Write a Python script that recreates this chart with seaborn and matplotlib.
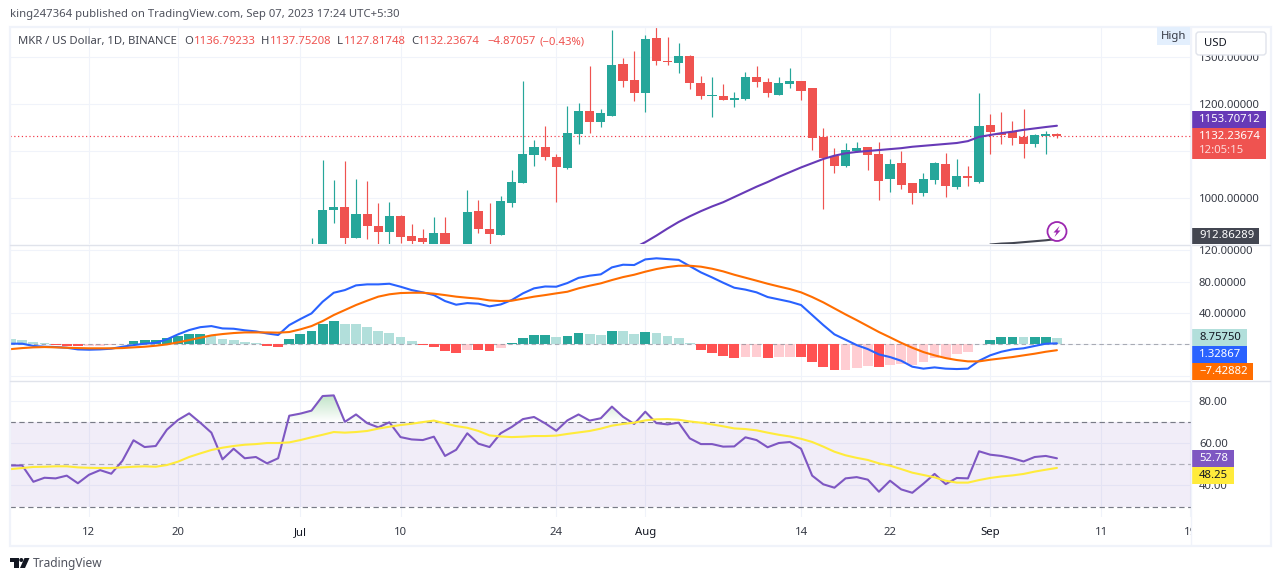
import numpy as np
import pandas as pd
import matplotlib
matplotlib.use("Agg")
import matplotlib.pyplot as plt
import seaborn as sns
from matplotlib.patches import Rectangle, FancyBboxPatch, Circle, Polygon
from matplotlib.path import Path
from matplotlib.transforms import Bbox
from matplotlib.colors import LinearSegmentedColormap

# day index: 0 = 12 Jun 2023
tick_days = [0, 8, 19, 28, 42, 50, 64, 72, 81, 91, 99]
tick_labels = ["12", "20", "Jul", "10", "24", "Aug", "14", "22", "Sep", "11", "19"]
month_labels = ["Jul", "Aug", "Sep"]

candle_days = list(range(20, 88))
opens = [880, 890, 974, 981, 915, 966, 940, 928, 962, 919, 915, 900, 925, 890, 885, 972, 934, 921, 989, 1032,
         1091, 1109, 1087, 1064, 1136, 1185, 1162, 1174, 1285, 1251, 1223, 1340, 1292, 1287, 1302, 1245, 1217, 1217,
         1209, 1211, 1257, 1247, 1219, 1243, 1249, 1234, 1130, 1089, 1068, 1100, 1109, 1094, 1040, 1074, 1032, 1011,
         1038, 1072, 1023, 1047, 1034, 1155, 1138, 1140, 1130, 1115, 1132, 1136.79]
highs = [915, 1081, 1038, 1079, 1040, 1036, 989, 991, 964, 945, 934, 960, 960, 895, 1017, 996, 989, 1004, 1060, 1249,
         1123, 1153, 1094, 1196, 1202, 1281, 1189, 1358, 1298, 1313, 1347, 1364, 1343, 1330, 1304, 1260, 1257, 1243,
         1226, 1268, 1281, 1255, 1257, 1277, 1249, 1234, 1149, 1106, 1117, 1119, 1109, 1119, 1083, 1100, 1032, 1053,
         1077, 1096, 1083, 1068, 1223, 1179, 1183, 1164, 1189, 1136, 1143, 1137.75]
lows = [870, 870, 947, 898, 915, 913, 902, 902, 904, 902, 895, 895, 890, 870, 870, 925, 900, 921, 981, 1032,
        1068, 1081, 991, 1062, 1115, 1138, 1151, 1174, 1236, 1206, 1183, 1283, 1283, 1266, 1232, 1211, 1172, 1209,
        1194, 1209, 1236, 1215, 1219, 1234, 1209, 1102, 977, 1053, 1066, 1098, 1060, 996, 1013, 1019, 987, 1004,
        1030, 1002, 1019, 1026, 1032, 1094, 1115, 1113, 1085, 1109, 1094, 1127.82]
closes = [900, 974, 981, 915, 966, 940, 928, 962, 917, 908, 906, 925, 895, 880, 970, 934, 923, 994, 1034, 1094,
          1109, 1087, 1066, 1138, 1185, 1162, 1181, 1283, 1249, 1223, 1338, 1292, 1289, 1302, 1245, 1217, 1219, 1209,
          1213, 1257, 1247, 1223, 1245, 1249, 1228, 1128, 1085, 1068, 1102, 1106, 1091, 1036, 1072, 1028, 1011, 1040,
          1074, 1026, 1047, 1043, 1153, 1140, 1134, 1128, 1115, 1134, 1136, 1132.24]

ma_days = list(range(49, 88))
ma_values = [894, 906, 920, 935, 949, 961, 972, 982, 991, 1002, 1013, 1024, 1034, 1045, 1055, 1065, 1074, 1083, 1090,
             1095, 1098, 1100, 1102, 1104, 1106, 1109, 1111, 1113, 1115, 1117, 1121, 1130, 1134, 1138, 1141, 1145,
             1148, 1151, 1153.71]
base_days = [81, 82, 83, 84, 85, 86, 87]
base_values = [901, 903, 904, 906, 908, 910, 912.86]
last_price = 1132.24

ind_days = list(range(-7, 88))
hist_values = [6.8, 5.5, 3, 1.7, -1.3, -2, -2, -2, -2, -1, 0.5, 4.2, 5.5, 5.5, 8, 10.6, 13.2, 13.2, 10.6, 6.8,
               5.5, 3, 1.7, -2, -3.4, 6.8, 13.2, 17, 26, 29.8, 26, 26, 22, 17, 14.5, 9.4, 4.3, -0.8, -3.4, -8.5,
               -11, -7.2, -7.2, -8.5, -4.7, 1.7, 8, 12, 12, 9.4, 10.6, 14.5, 13.2, 12, 17, 17, 13.2, 15.8, 14.5,
               10.6, 8, 1.7, -7.2, -11, -15, -17.5, -16.2, -16.2, -17.5, -16.2, -16.2, -16.2, -22.6, -29, -32.8,
               -32.8, -30.2, -27.7, -29, -26.4, -25, -26.4, -22.6, -17.5, -17.5, -12.4, -9.8, 0.4, 5.5, 9.4, 9.4,
               9.4, 9.4, 9.4, 8.76]
hist_kinds = ["l", "l", "l", "l", "r", "r", "r", "p", "p", "p", "g", "g", "g", "g", "g", "g", "g", "g", "l", "l",
              "l", "l", "l", "r", "r", "g", "g", "g", "g", "g", "l", "l", "l", "l", "l", "l", "l", "r", "r", "r",
              "r", "p", "r", "r", "p", "g", "g", "g", "g", "l", "g", "g", "l", "l", "g", "l", "l", "g", "l",
              "l", "l", "l", "r", "r", "r", "r", "p", "p", "r", "p", "p", "r", "r", "r", "r",
              "p", "p", "p", "r", "p", "p", "p", "p", "p", "p", "p", "p", "g", "g", "g", "g",
              "l", "g", "g", "l"]
macd_values = [0.9, 0.9, -2, -3, -3.4, -4.3, -6.4, -6.8, -6.4, -5.5, -3, -0.9, 0.9, 2, 6.4, 12.8, 18.3, 22, 23.4, 20.4,
               20, 18, 16.6, 14, 12, 24.7, 32.4, 39.6, 54.5, 66, 69.4, 75.4, 76.7, 76.7, 77.5, 73.7, 69.4, 66.5, 63,
               55.4, 50.7, 52.8, 52, 48.6, 51, 56.7, 65.2, 71.6, 74, 73.7, 78.4, 85, 87.8, 89.5, 98.4, 101.8, 101.4,
               108.6, 110, 109, 108, 100, 92, 85.6, 78.8, 72.4, 70, 66.5, 60.5, 57.5, 54.5, 50.3, 37.5, 24.7, 12.8,
               6, -0.9, -6, -12.8, -16.2, -20.9, -28.5, -31, -29.4, -31, -31.5, -31, -20.9, -14, -9.4, -6.4, -5, -2,
               0.9, 1.33]
signal_values = [-6, -4.7, -3.8, -3.4, -3.8, -4.3, -4.7, -5, -5, -5, -4.7, -3.8, -3, -1.7, 0, 2.6, 5.5, 8.5, 11.5, 13.2,
                 14.5, 15.3, 15.3, 15.3, 15, 15.8, 19.2, 23.4, 29.8, 37.5, 43.9, 50.3, 55.8, 61, 64, 65.6, 66, 66,
                 64.8, 63, 61, 59.6, 58.4, 56.2, 55.4, 55.8, 58.4, 61, 63, 65.2, 67.3, 71.6, 75, 78, 82.2, 86, 89,
                 92.9, 96.3, 98.8, 100.5, 100.5, 99.3, 96.7, 93.3, 89, 85.2, 81.4, 77.5, 74, 70.7, 66.5, 60.5, 53.7,
                 46, 38.3, 31, 23.4, 15.8, 9, 2, -4.3, -9.8, -14, -17.5, -20, -21.7, -21.7, -19.6, -17.9, -16.2,
                 -14, -11.9, -9.4, -7.43]
rsi_values = [49.4, 49.4, 41.7, 43.6, 43.3, 44.6, 41, 45, 47.2, 45.5, 51.6, 61.3, 58.1, 58.6, 66.3, 70.9, 74, 69.6, 64.9,
              52.3, 57.3, 52.8, 53.4, 50.4, 52.8, 72.9, 73.9, 75.3, 82.2, 82.5, 70, 73.5, 69.4, 67.4, 69.8, 62.8,
              61.7, 61.4, 63, 53.9, 56.8, 64.6, 59.7, 58.1, 64.6, 67.6, 71.3, 72.3, 69.3, 65.8, 70.7, 73.5, 70.6,
              71.7, 77.2, 72.4, 69, 74.8, 69.4, 68.8, 69.6, 62.2, 59.5, 59.5, 58.3, 58.4, 62.7, 61.4, 58, 60, 60.5,
              57.3, 44.6, 40.5, 38.9, 43.3, 43.9, 42.7, 37, 42.2, 38.1, 36.5, 40.8, 45.4, 40.6, 43.5, 43.3, 56.1,
              54.5, 53.9, 52.8, 51.3, 53.4, 53.9, 52.78]
rsi_ma_values = [47.7, 48.2, 48.7, 48.8, 49, 49, 48.5, 48.3, 48.2, 48.2, 48.5, 48.8, 49, 48.8, 49.6, 51.2, 53.4, 55.1,
                 56.7, 57.8, 58.6, 59.2, 59.5, 60, 60, 60.3, 61.4, 62.7, 63.9, 65.2, 64.9, 65.2, 65.7, 66.8, 67.7,
                 68.5, 69.1, 69.9, 70.6, 69.3, 68, 67.2, 65.7, 63.6, 63.1, 62.8, 63, 63.3, 63.3, 63.5, 64.3, 65, 65.7,
                 66.8, 68.2, 69, 69.6, 70.7, 71.2, 71.3, 71, 70.2, 69.6, 68.8, 67.9, 66.9, 66.6, 66, 64.9, 63.9, 63.1,
                 62, 60.5, 58.3, 55.9, 54.2, 53, 52, 50.4, 49.3, 47.7, 46, 44.9, 43.8, 42.2, 41.3, 41.3, 42.5, 43.5,
                 44.2, 44.7, 45.4, 46.5, 47.4, 48.25]

GREEN, RED = "#26A69A", "#EF5350"
HIST = {"g": "#26A69A", "l": "#B2DFDB", "r": "#FF5252", "p": "#FFCDD2"}
GRID, SEP, FRAME = "#F0F3FA", "#E0E3EB", "#F0F3FA"
TXT = "#363A45"
FONT = "Noto Sans"
W, H = 1281, 581

sns.set_theme(style="white")
plt.rcParams["font.family"] = [FONT, "DejaVu Sans"]
plt.rcParams["font.size"] = 8

fig = plt.figure(figsize=(W / 100, H / 100), dpi=100, facecolor="white")


def pane(top, bottom):
    return fig.add_axes([10 / W, 1 - bottom / H, 1181 / W, (bottom - top) / H])


ax_p = pane(27, 244)
ax_m = pane(245, 380)
ax_r = pane(381, 517)

for ax, yt, yl in [
    (ax_p, [1000, 1100, 1200, 1300], ["1000.00000", "", "1200.00000", "1300.00000"]),
    (ax_m, [-40, 0, 40, 80, 120], ["", "", "40.00000", "80.00000", "120.00000"]),
    (ax_r, [40, 60, 80], ["40.00", "60.00", "80.00"]),
]:
    ax.set_facecolor("white")
    ax.set_axisbelow(True)
    ax.grid(True, color=GRID, linewidth=0.8)
    ax.yaxis.tick_right()
    ax.set_yticks(yt)
    ax.set_yticklabels(yl, color=TXT, fontsize=8.15)
    ax.set_xticks(tick_days)
    ax.tick_params(axis="both", length=0, pad=5.7)
    for s in ax.spines.values():
        s.set_visible(False)

# ---- price pane
cols = [GREEN if c >= o else RED for o, c in zip(opens, closes)]
ax_p.vlines(candle_days, lows, highs, colors=cols, linewidth=0.85, zorder=2)
ax_p.bar(candle_days, np.abs(np.array(closes) - np.array(opens)),
         bottom=np.minimum(opens, closes), width=0.82, color=cols, zorder=3, linewidth=0)
ax_p.axhline(last_price, color="#F23645", linestyle=(0, (1, 2.2)), linewidth=0.85, zorder=2)
sns.lineplot(x=ma_days, y=ma_values, ax=ax_p, color="#673AB7", linewidth=1.5, errorbar=None, zorder=4)
sns.lineplot(x=base_days, y=base_values, ax=ax_p, color="#434651", linewidth=1.5, errorbar=None, zorder=4)
ax_p.set_xticklabels([])

# ---- MACD pane
df_h = pd.DataFrame({"day": ind_days, "v": hist_values, "k": hist_kinds})
order = ["l", "p", "g", "r"]
sns.barplot(data=df_h, x="day", y="v", hue="k", hue_order=order, palette=HIST, dodge=False,
            native_scale=True, width=0.88, saturation=1, legend=False, ax=ax_m, linewidth=0)
for cont, k in zip(ax_m.containers, order):
    for b in cont:
        b.set_zorder(1 if k in "lp" else 3)
ax_m.axhline(0, color="#787B86", alpha=0.6, linewidth=0.8, linestyle=(0, (4, 3)), zorder=2)
sns.lineplot(x=ind_days, y=macd_values, ax=ax_m, color="#2962FF", linewidth=1.5, errorbar=None, zorder=5)
sns.lineplot(x=ind_days, y=signal_values, ax=ax_m, color="#FF6D00", linewidth=1.5, errorbar=None, zorder=6)
ax_m.set_xticks(tick_days)
ax_m.set_xticklabels([])
ax_m.set_xlabel("")
ax_m.set_ylabel("")

# ---- RSI pane
ax_r.axhspan(30, 70, color="#7E57C2", alpha=0.1, linewidth=0, zorder=1)
for lvl, a in [(70, 1), (50, 0.55), (30, 1)]:
    ax_r.axhline(lvl, color="#787B86", alpha=a, linewidth=0.85, linestyle=(0, (4.5, 3)), zorder=2)
poly = ax_r.fill_between(ind_days, 70, rsi_values, where=np.array(rsi_values) > 70, interpolate=True,
                         color="none", linewidth=0)
cmap = LinearSegmentedColormap.from_list("ob", ["#FFFFFF", "#BFE3C6"])
im = ax_r.imshow(np.linspace(1, 0, 64).reshape(-1, 1), cmap=cmap, aspect="auto",
                 extent=(-7.1, 99.05, 70, 83), zorder=2, origin="upper")
im.set_clip_path(Path.make_compound_path(*poly.get_paths()), transform=ax_r.transData)
sns.lineplot(x=ind_days, y=rsi_values, ax=ax_r, color="#7E57C2", linewidth=1.5, errorbar=None, zorder=5)
sns.lineplot(x=ind_days, y=rsi_ma_values, ax=ax_r, color="#FFEB3B", linewidth=1.5, errorbar=None, zorder=6)
ax_r.set_xticks(tick_days)
ax_r.set_xticklabels(tick_labels, fontsize=8.15)
ax_r.tick_params(axis="x", pad=7.5, labelbottom=True)
for lab in ax_r.get_xticklabels():
    lab.set_color("#131722" if lab.get_text() in month_labels else TXT)
    lab.set_clip_on(True)
    lab.set_clip_box(Bbox([[0, 0], [1191, H]]))

for ax, ylim in [(ax_p, (902.1, 1363.8)), (ax_m, (-45.5, 127)), (ax_r, (25.06, 89.3))]:
    ax.set_xlim(-7.1, 99.05)
    ax.set_ylim(*ylim)

# ---- page furniture, in pixel coordinates
ov = fig.add_axes([0, 0, 1, 1], zorder=20)
ov.set_xlim(0, W)
ov.set_ylim(H, 0)
ov.axis("off")
ov.patch.set_alpha(0)


def rect(x0, y0, x1, y1, fc, **kw):
    ov.add_patch(Rectangle((x0, y0), x1 - x0, y1 - y0, facecolor=fc, edgecolor="none", **kw))


def txt(x, y, s, color=TXT, size=8.15, ha="left", **kw):
    ov.text(x, y, s, color=color, fontsize=size, ha=ha, va="center", **kw)


# frame and separators
ov.add_patch(Rectangle((9.5, 26.5), 1261, 519, fill=False, edgecolor=FRAME, linewidth=1.6))
ov.plot([10, 1270], [244.5, 244.5], color=SEP, lw=1)
ov.plot([10, 1270], [380.5, 380.5], color=SEP, lw=1)
ov.plot([1191, 1191], [27, 545], color=GRID, lw=1)

# header
txt(10, 15, "king247364 published on TradingView.com, Sep 07, 2023 17:24 UTC+5:30", color="#50535E", size=8.15)
txt(18, 41.5, "MKR / US Dollar, 1D, BINANCE", color="#434651", size=8.1)
for x, s, c in [(184, "O", "#434651"), (193.5, "1136.79233", RED), (261, "H", "#434651"), (270, "1137.75208", RED),
                (337, "L", "#434651"), (344, "1127.81748", RED), (411, "C", "#434651"), (418, "1132.23674", RED),
                (487, "\u22124.87057", RED), (540, "(\u22120.43%)", RED)]:
    txt(x, 41.5, s, color=c, size=8.15)

# High tag and currency button
rect(1157, 27, 1190, 45, "#E3EFFD")
txt(1173.5, 36, "High", color=TXT, ha="center")
ov.add_patch(FancyBboxPatch((1196, 32), 70, 23, boxstyle="round,pad=0,rounding_size=3",
                            facecolor="white", edgecolor=SEP, linewidth=1))
txt(1204, 43.5, "USD", color="#131722")

# last-value tags
tags = [
    (1191, 1266, 111, 128, "#673AB7", "1153.70712", "white"),
    (1191, 1259, 228, 244, "#434651", "912.86289", "white"),
    (1191, 1247, 329, 346, "#B2DFDB", "8.75750", "#131722"),
    (1191, 1247, 346, 363, "#2962FF", "1.32867", "white"),
    (1191, 1253, 363, 380, "#FF6D00", "\u22127.42882", "white"),
    (1191, 1234, 450, 467, "#7E57C2", "52.78", "white"),
    (1191, 1234, 467, 484, "#FFEB3B", "48.25", "#131722"),
]
rect(1191, 128, 1266, 159, "#EF5350")
txt(1199, 136.5, "1132.23674", color="white", fontweight="medium")
txt(1199, 150.5, "12:05:15", color="#FDD9D8")
for x0, x1, y0, y1, fc, s, tc in tags:
    rect(x0, y0, x1, y1, fc)
    txt(1199, (y0 + y1) / 2, s, color=tc)

# bolt marker
ov.add_patch(Circle((1057, 231.5), 9.5, facecolor="white", edgecolor="#9C27B0", linewidth=1.3))
ov.add_patch(Polygon([(1059.5, 226), (1053.5, 232.5), (1056.5, 232.5), (1054.5, 237),
                      (1060.5, 230.5), (1057.5, 230.5)], closed=True, facecolor="#9C27B0", edgecolor="none"))

# footer logo
ov.add_patch(Polygon([(10, 558), (18.5, 558), (18.5, 568), (14, 568), (14, 562), (10, 562)], closed=True,
                     facecolor="#131722", edgecolor="none"))
ov.add_patch(Circle((21.3, 560), 2, facecolor="#131722", edgecolor="none"))
ov.add_patch(Polygon([(24.5, 558), (29.5, 558), (25, 568), (20, 568)], closed=True,
                     facecolor="#131722", edgecolor="none"))
txt(33, 563.5, "TradingView", color="#50535E", size=8.6)

fig.savefig("out.png", dpi=100)
